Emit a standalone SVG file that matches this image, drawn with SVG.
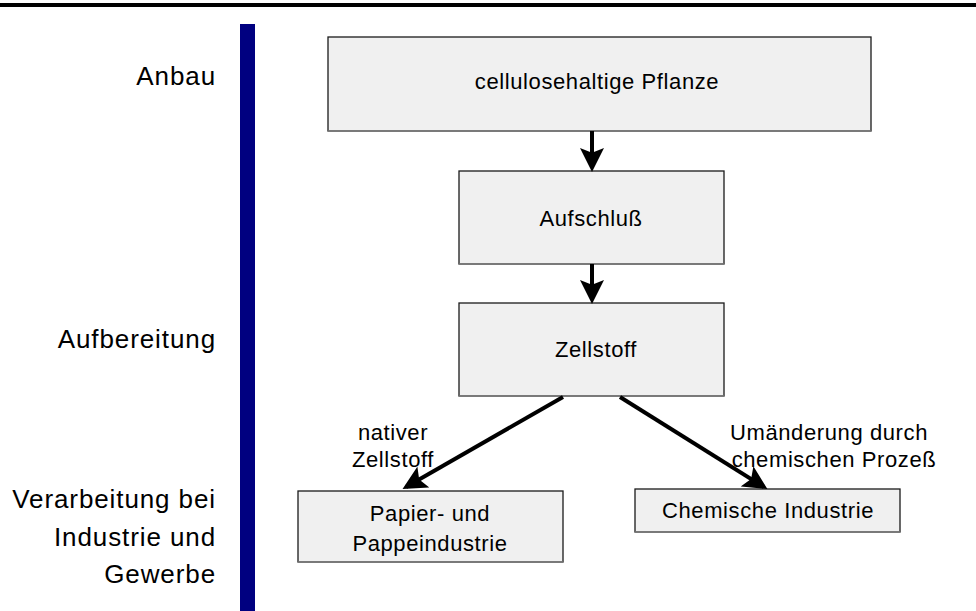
<svg xmlns="http://www.w3.org/2000/svg" width="976" height="611" viewBox="0 0 976 611">
<defs>
<style>
.box{fill:#f0f0f0;stroke:#1a1a1a;stroke-width:1.3}
.sh{stroke:#808080;stroke-width:1.5}
.t{font-family:"Liberation Sans",Arial,sans-serif;font-size:22px;letter-spacing:0.6px;fill:#000;text-anchor:middle}
.l{font-family:"Liberation Sans",Arial,sans-serif;font-size:26px;letter-spacing:0.9px;fill:#000;text-anchor:end}
.c{stroke:#000;stroke-width:4;fill:none}
</style>
<marker id="ah" markerWidth="6" markerHeight="6" refX="5" refY="3" orient="auto" markerUnits="strokeWidth">
<path d="M0,0 L6,3 L0,6 L1.2,3 Z" fill="#000"/>
</marker>
</defs>
<rect width="976" height="611" fill="#fff"/>
<rect x="0" y="3" width="976" height="4" fill="#000"/>
<rect x="240" y="24" width="15" height="587" fill="#000080"/>
<g id="labels">
<text class="l" x="216" y="85">Anbau</text>
<text class="l" x="216" y="348">Aufbereitung</text>
<text class="l" x="216" y="508">Verarbeitung bei</text>
<text class="l" x="216" y="546">Industrie und</text>
<text class="l" x="216" y="583">Gewerbe</text>
</g>
<g id="n1">
<rect class="box" x="328" y="37" width="543" height="94"/>
<line class="sh" x1="328" y1="131" x2="871" y2="131"/>
<text class="t" x="597" y="89">cellulosehaltige Pflanze</text>
</g>
<g id="n2">
<rect class="box" x="459" y="171" width="265" height="93"/>
<line class="sh" x1="459" y1="264" x2="724" y2="264"/>
<text class="t" x="591" y="226">Aufschluß</text>
</g>
<g id="n3">
<rect class="box" x="459" y="303" width="265" height="93"/>
<line class="sh" x1="459" y1="396" x2="724" y2="396"/>
<text class="t" x="596" y="357">Zellstoff</text>
</g>
<g id="n4">
<rect class="box" x="298" y="491" width="265" height="71"/>
<line class="sh" x1="298" y1="562" x2="563" y2="562"/>
<text class="t" x="430" y="521">Papier- und</text>
<text class="t" x="430" y="551">Pappeindustrie</text>
</g>
<g id="n5">
<rect class="box" x="635" y="489" width="265" height="43"/>
<line class="sh" x1="635" y1="532" x2="900" y2="532"/>
<text class="t" x="768" y="518">Chemische Industrie</text>
</g>
<g id="connectors">
<line class="c" x1="592" y1="131" x2="592" y2="168" marker-end="url(#ah)"/>
<line class="c" x1="592" y1="264" x2="592" y2="300" marker-end="url(#ah)"/>
<line class="c" x1="563" y1="397" x2="406" y2="487" marker-end="url(#ah)"/>
<line class="c" x1="620" y1="397" x2="764" y2="487" marker-end="url(#ah)"/>
<text class="t" x="393" y="440">nativer</text>
<text class="t" x="393" y="467">Zellstoff</text>
<text class="t" x="829" y="440">Umänderung durch</text>
<text class="t" x="834" y="467">chemischen Prozeß</text>
</g>
</svg>
